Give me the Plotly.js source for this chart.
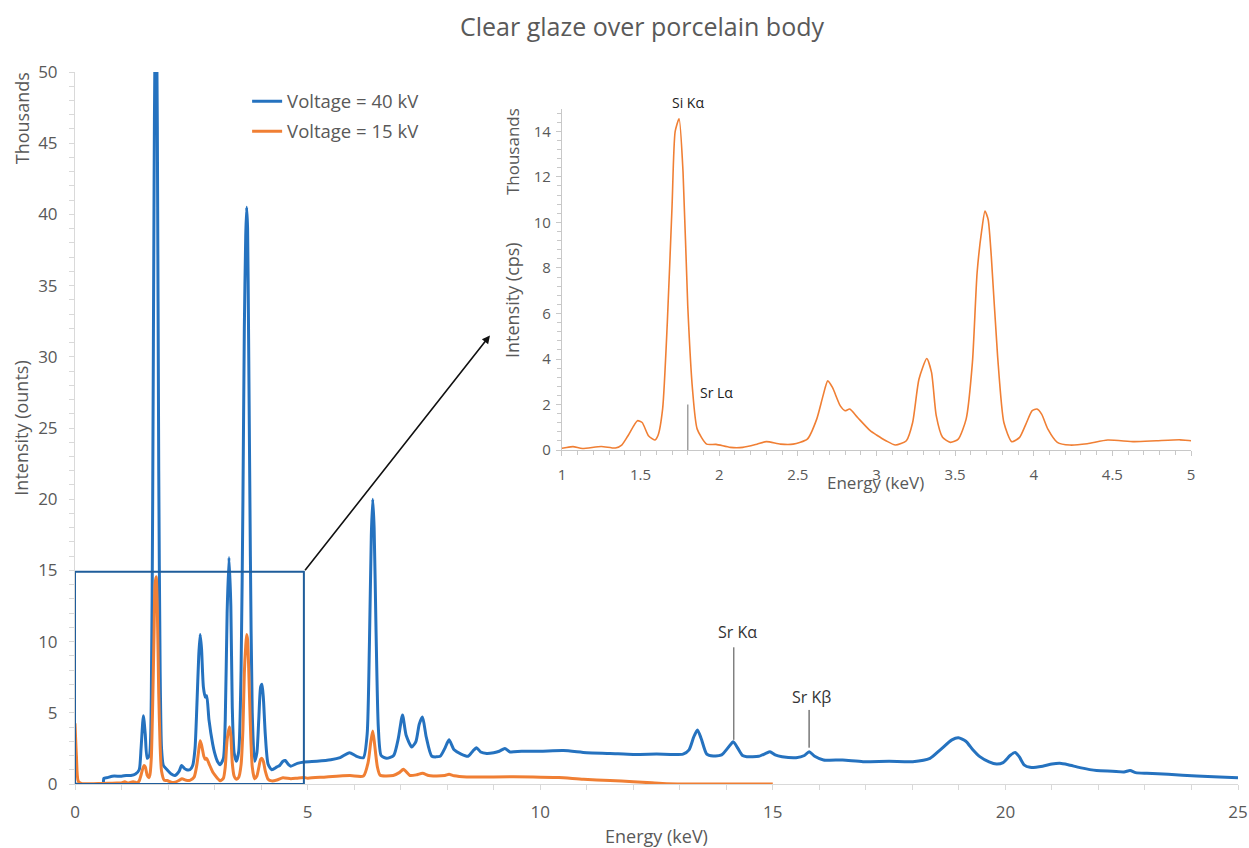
<!DOCTYPE html>
<html>
<head>
<meta charset="utf-8">
<script src="https://cdn.plot.ly/plotly-3.0.1.min.js"></script>
<style>html,body{margin:0;padding:0;background:#fff;}#chart{width:1249px;height:848px;}</style>
</head>
<body>
<div id="chart"></div>
<script>
// Energy (keV) and intensity (thousands of counts), Voltage = 40 kV
const energy40 = [
  0, 0.6, 0.62, 0.7, 0.8, 1.0, 1.1, 1.2, 1.3, 1.38,
  1.42, 1.47, 1.51, 1.55, 1.6, 1.64, 1.67, 1.70, 1.72, 1.745,
  1.77, 1.80, 1.83, 1.86, 1.9, 1.98, 2.07, 2.15, 2.24, 2.29,
  2.35, 2.4, 2.47, 2.53, 2.58, 2.62, 2.66, 2.69, 2.72, 2.76,
  2.80, 2.83, 2.88, 2.96, 3.0, 3.06, 3.12, 3.19, 3.23, 3.27,
  3.31, 3.35, 3.38, 3.42, 3.47, 3.52, 3.57, 3.61, 3.64, 3.67,
  3.69, 3.71, 3.73, 3.77, 3.81, 3.86, 3.91, 3.95, 3.99, 4.02,
  4.05, 4.09, 4.15, 4.23, 4.34, 4.40, 4.47, 4.52, 4.58, 4.64,
  4.78, 4.93, 5.2, 5.5, 5.7, 5.9, 6.05, 6.2, 6.28, 6.33,
  6.37, 6.40, 6.43, 6.47, 6.52, 6.58, 6.7, 6.85, 6.95, 7.04,
  7.12, 7.24, 7.33, 7.40, 7.47, 7.55, 7.67, 7.85, 7.95, 8.04,
  8.15, 8.3, 8.45, 8.55, 8.63, 8.72, 8.85, 9.0, 9.12, 9.24,
  9.35, 9.6, 10.0, 10.5, 11.0, 11.5, 12.0, 12.5, 13.07, 13.2,
  13.3, 13.38, 13.46, 13.58, 13.72, 13.9, 14.05, 14.15, 14.25, 14.35,
  14.44, 14.7, 14.85, 14.94, 15.05, 15.2, 15.5, 15.68, 15.78, 15.9,
  16.09, 16.5, 16.94, 17.5, 18.01, 18.38, 18.6, 18.85, 18.99, 19.15,
  19.3, 19.45, 19.65, 19.81, 19.95, 20.1, 20.21, 20.3, 20.4, 20.53,
  20.8, 21.0, 21.17, 21.35, 21.6, 21.96, 22.3, 22.55, 22.68, 22.8,
  23.04, 23.5, 24.11, 24.6, 25.0
];
const intensity40 = [
  0, 0, 0.4, 0.45, 0.55, 0.55, 0.6, 0.6, 0.7, 1.0,
  2.5, 4.8, 3.5, 1.8, 2.0, 6, 20, 42, 52, 55,
  46, 22, 8, 2.5, 1.3, 1.0, 0.7, 0.6, 0.9, 1.3,
  1.1, 1.0, 1.0, 1.3, 2.5, 5.5, 9.0, 10.5, 9.5, 6.8,
  6.1, 6.2, 4.5, 2.8, 2.2, 1.6, 1.35, 1.8, 4.5, 12,
  15.9, 12.5, 5.5, 2.2, 1.6, 2.3, 8, 20, 32, 38.5,
  40.5, 39, 32, 16, 5, 1.6, 2.2, 4.5, 6.8, 7.0,
  6.0, 3.5, 1.4, 1.0, 1.2, 1.3, 1.6, 1.65, 1.4, 1.25,
  1.45, 1.55, 1.6, 1.7, 1.85, 2.2, 1.95, 1.85, 3.5, 10,
  17.5, 20, 18, 11, 4, 2.0, 1.8, 2.0, 3.2, 4.85,
  3.4, 2.6, 3.0, 4.2, 4.7, 3.3, 1.95, 1.95, 2.5, 3.1,
  2.4, 2.1, 1.95, 2.3, 2.55, 2.25, 2.15, 2.2, 2.3, 2.5,
  2.25, 2.3, 2.3, 2.35, 2.2, 2.15, 2.08, 2.1, 2.1, 2.4,
  3.3, 3.8, 3.2, 2.1, 1.97, 2.05, 2.6, 2.97, 2.5, 2.0,
  1.92, 1.95, 2.15, 2.27, 2.05, 1.92, 1.85, 2.0, 2.27, 1.95,
  1.69, 1.68, 1.57, 1.6, 1.57, 1.8, 2.4, 3.1, 3.25, 3.0,
  2.4, 1.92, 1.55, 1.4, 1.5, 2.0, 2.22, 1.9, 1.35, 1.17,
  1.25, 1.4, 1.45, 1.35, 1.15, 0.94, 0.9, 0.85, 0.95, 0.8,
  0.75, 0.68, 0.56, 0.5, 0.44
];
// Voltage = 15 kV
const energy15 = [
  0, 0.03, 0.07, 0.15, 0.3, 0.5, 0.7, 0.9, 1.0, 1.07,
  1.13, 1.25, 1.34, 1.38, 1.42, 1.48, 1.51, 1.55, 1.59, 1.61,
  1.64, 1.67, 1.70, 1.72, 1.745, 1.77, 1.80, 1.83, 1.86, 1.92,
  1.98, 2.07, 2.15, 2.24, 2.30, 2.39, 2.47, 2.56, 2.62, 2.66,
  2.69, 2.72, 2.77, 2.80, 2.83, 2.88, 2.96, 3.0, 3.06, 3.12,
  3.19, 3.23, 3.27, 3.32, 3.35, 3.38, 3.42, 3.47, 3.52, 3.57,
  3.61, 3.64, 3.67, 3.69, 3.71, 3.73, 3.77, 3.81, 3.86, 3.91,
  3.95, 3.99, 4.02, 4.05, 4.09, 4.15, 4.23, 4.34, 4.47, 4.64,
  4.78, 4.93, 5.0, 5.4, 5.91, 6.2, 6.3, 6.36, 6.40, 6.44,
  6.5, 6.56, 6.84, 6.97, 7.06, 7.2, 7.35, 7.47, 7.6, 7.70,
  7.95, 8.04, 8.15, 8.42, 9.0, 9.85, 10.4, 10.93, 11.5, 12.0,
  12.4, 12.72, 13.5, 14.3, 15.0
];
const intensity15 = [
  4.26, 2.0, 0.2, 0.03, 0.02, 0.03, 0.05, 0.07, 0.08, 0.15,
  0.07, 0.16, 0.09, 0.22, 0.63, 1.29, 1.21, 0.63, 0.44, 0.63,
  1.8, 5.6, 10.7, 14.0, 14.55, 12.2, 6.33, 2.68, 0.92, 0.26,
  0.25, 0.12, 0.12, 0.26, 0.37, 0.26, 0.26, 0.48, 1.36, 2.38,
  3.04, 2.75, 1.94, 1.73, 1.8, 1.43, 0.85, 0.66, 0.41, 0.22,
  0.41, 1.21, 3.11, 4.02, 3.41, 1.51, 0.56, 0.34, 0.48, 1.36,
  3.85, 7.8, 9.69, 10.5, 10.13, 8.52, 4.14, 1.21, 0.37, 0.56,
  1.14, 1.73, 1.8, 1.58, 0.92, 0.34, 0.22, 0.28, 0.44, 0.37,
  0.41, 0.45, 0.41, 0.5, 0.59, 0.56, 1.5, 3.0, 3.72, 2.8,
  1.2, 0.61, 0.6, 0.8, 1.03, 0.6, 0.65, 0.75, 0.6, 0.57,
  0.6, 0.68, 0.58, 0.5, 0.5, 0.5, 0.45, 0.33, 0.25, 0.16,
  0.08, 0.02, 0.0, 0.0, 0.0
];
const seriesNames = ['Voltage = 40 kV', 'Voltage = 15 kV'];
const seriesColors = ['#2572bf', '#f07f34'];
const chartTitle = 'Clear glaze over porcelain body';
// peak labels: [text, x, y(label), lineTop, lineBottom]
const peakLabelsMain = [['Sr Kα', 14.25, 10.7, 9.6, 3.1], ['Sr Kβ', 15.84, 6.1, 5.2, 2.55]];
const peakLabelsInset = [['Si Kα', 1.80, 14.9], ['Sr Lα', 1.985, 2.55]];
const srLaLine = [1.8, 0, 2];
const zoomBox = [0, 4.92, 0, 14.9];
const arrowHead = [8.92, 31.5];

const grey = '#595959';
const FONT = '"Open Sans", sans-serif';

const traces = [
  {x: energy40, y: intensity40, type: 'scatter', mode: 'lines', name: seriesNames[0],
   line: {color: seriesColors[0], width: 3, shape: 'spline', smoothing: 0.6},
   xaxis: 'x', yaxis: 'y', legendgroup: 'a'},
  {x: energy15, y: intensity15, type: 'scatter', mode: 'lines', name: seriesNames[1],
   line: {color: seriesColors[1], width: 3, shape: 'spline', smoothing: 0.6},
   xaxis: 'x', yaxis: 'y', legendgroup: 'b'},
  {x: energy15, y: intensity15, type: 'scatter', mode: 'lines', name: seriesNames[1],
   line: {color: seriesColors[1], width: 1.6, shape: 'spline', smoothing: 0.6},
   xaxis: 'x2', yaxis: 'y2', showlegend: false}
];

const shapes = [
  {type: 'rect', xref: 'x', yref: 'y', x0: zoomBox[0], x1: zoomBox[1], y0: zoomBox[2], y1: zoomBox[3],
   line: {color: '#1f5d9b', width: 2}},
  {type: 'line', xref: 'x2', yref: 'y2', x0: srLaLine[0], x1: srLaLine[0], y0: srLaLine[1], y1: srLaLine[2],
   line: {color: '#a0a0a0', width: 1.5}},
  {type: 'line', xref: 'x', yref: 'y', x0: peakLabelsMain[0][1] - 0.09, x1: peakLabelsMain[0][1] - 0.09,
   y0: peakLabelsMain[0][4], y1: peakLabelsMain[0][3], line: {color: '#808080', width: 1.5}},
  {type: 'line', xref: 'x', yref: 'y', x0: peakLabelsMain[1][1] - 0.06, x1: peakLabelsMain[1][1] - 0.06,
   y0: peakLabelsMain[1][4], y1: peakLabelsMain[1][3], line: {color: '#333333', width: 1}}
];

const annotations = [
  {xref: 'x', yref: 'y', axref: 'x', ayref: 'y', x: arrowHead[0], y: arrowHead[1], ax: zoomBox[1], ay: zoomBox[3],
   text: '', showarrow: true, arrowhead: 2, arrowsize: 1, arrowwidth: 1.6, arrowcolor: '#111'},
  {xref: 'paper', yref: 'paper', x: -0.0456, y: 0.935, text: 'Thousands', textangle: -90, showarrow: false,
   font: {family: FONT, size: 18, color: grey}, xanchor: 'center', yanchor: 'middle'},
  {xref: 'paper', yref: 'paper', x: 0.3758, y: 0.8876, text: 'Thousands', textangle: -90, showarrow: false,
   font: {family: FONT, size: 17, color: grey}, xanchor: 'center', yanchor: 'middle'},
  {xref: 'paper', yref: 'paper', x: 0.3758, y: 0.6798, text: 'Intensity (cps)', textangle: -90, showarrow: false,
   font: {family: FONT, size: 18, color: grey}, xanchor: 'center', yanchor: 'middle'},
  {xref: 'paper', yref: 'paper', x: 0.6887, y: 0.424, text: 'Energy (keV)', showarrow: false,
   font: {family: FONT, size: 17, color: grey}, xanchor: 'center', yanchor: 'middle'}
];
peakLabelsMain.forEach(p => annotations.push({xref: 'x', yref: 'y', x: p[1], y: p[2], text: p[0], showarrow: false,
  font: {family: FONT, size: 16, color: '#333'}, xanchor: 'center', yanchor: 'middle'}));
peakLabelsInset.forEach(p => annotations.push({xref: 'x2', yref: 'y2', x: p[1], y: p[2], text: p[0], showarrow: false,
  yshift: p[0] === 'Si Kα' ? 8 : 0,
  font: {family: FONT, size: 14, color: '#222'}, xanchor: 'center', yanchor: 'middle'}));

const axisCommon = {showgrid: false, zeroline: false, showline: true, linecolor: '#d9d9d9', linewidth: 1,
  ticks: 'outside', tickcolor: '#d9d9d9', ticklen: 5, tickfont: {family: FONT, size: 17, color: grey}};

const layout = {
  width: 1249, height: 848,
  margin: {l: 75, r: 11, t: 72, b: 64},
  paper_bgcolor: '#fff', plot_bgcolor: 'rgba(0,0,0,0)',
  font: {family: FONT, color: grey},
  title: {text: chartTitle, font: {family: FONT, size: 25, color: grey}, xref: 'container', x: 0.514, xanchor: 'center',
          yref: 'container', y: 0.968, yanchor: 'middle'},
  showlegend: true,
  legend: {x: 0.148, y: 0.985, xanchor: 'left', yanchor: 'top', bgcolor: 'rgba(0,0,0,0)',
           font: {family: FONT, size: 18.5, color: grey}, traceorder: 'grouped', tracegroupgap: 3},
  xaxis: Object.assign({}, axisCommon, {range: [0, 25], dtick: 5, tick0: 0, domain: [0, 1], anchor: 'y',
    ticklabelstandoff: 8,
    minor: {dtick: 1, ticks: 'outside', ticklen: 5, tickcolor: '#d9d9d9'},
    title: {text: 'Energy (keV)', font: {family: FONT, size: 18, color: grey}, standoff: 8}}),
  yaxis: Object.assign({}, axisCommon, {range: [0, 50], dtick: 5, tick0: 0, domain: [0, 1], anchor: 'x',
    ticklabelstandoff: 8,
    minor: {dtick: 1, ticks: 'outside', ticklen: 5, tickcolor: '#d9d9d9'},
    title: {text: 'Intensity (ounts)', font: {family: FONT, size: 18, color: grey}, standoff: 4}}),
  xaxis2: Object.assign({}, axisCommon, {range: [1, 5], dtick: 0.5, tick0: 1, domain: [0.4187, 0.9596], anchor: 'y2',
    tickfont: {family: FONT, size: 15, color: grey}, linecolor: '#c8c8c8', tickcolor: '#c8c8c8', ticklabelstandoff: 6,
    minor: {dtick: 0.1, ticks: 'outside', ticklen: 4, tickcolor: '#c8c8c8'}}),
  yaxis2: Object.assign({}, axisCommon, {range: [0, 15], dtick: 2, tick0: 0, domain: [0.469, 0.9486], anchor: 'x2',
    tickfont: {family: FONT, size: 15, color: grey}, linecolor: '#c8c8c8', tickcolor: '#c8c8c8', ticklabelstandoff: 2,
    minor: {dtick: 0.4, ticks: 'outside', ticklen: 4, tickcolor: '#c8c8c8'}}),
  shapes: shapes,
  annotations: annotations
};

Plotly.newPlot('chart', traces, layout, {staticPlot: true, displayModeBar: false});
</script>
</body>
</html>
